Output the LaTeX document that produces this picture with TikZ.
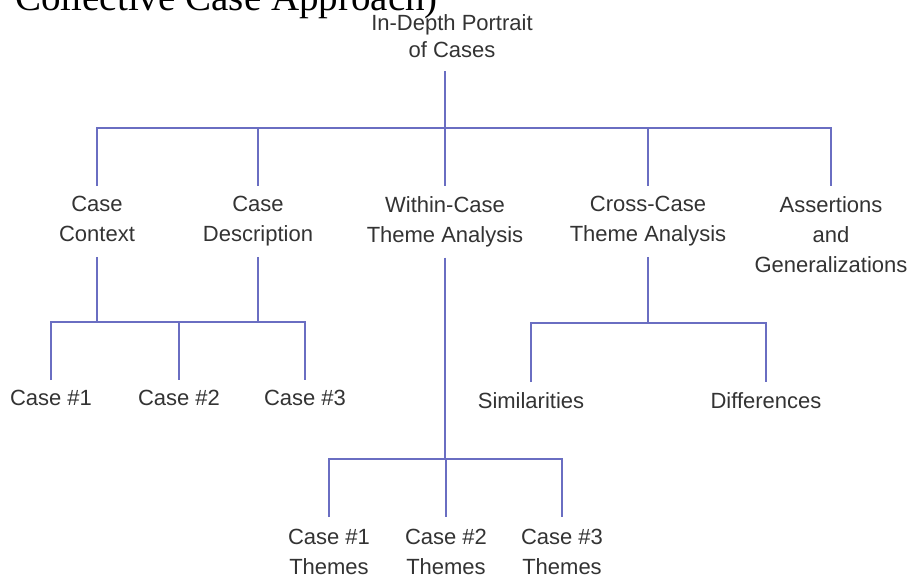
\documentclass[tikz,border=0pt]{standalone}
\usepackage{fontspec}
\setmainfont{Liberation Sans}
\newfontfamily\titlefont{Liberation Serif}
\usetikzlibrary{calc}
\definecolor{linkblue}{HTML}{6A6EC2}
\definecolor{labelgray}{HTML}{333333}
\newcommand{\lowph}{\vphantom{p}}
\begin{document}
\begin{tikzpicture}[x=1pt,y=-1pt,
  link/.style={draw=linkblue,line width=2.6pt,line join=miter},
  lbl/.style={align=center,inner sep=0pt,outer xsep=0pt,outer ysep=10.5pt,
    text=labelgray,font=\fontsize{22}{30}\selectfont},
  upper/.style={lbl,anchor=north},
  leaf/.style={lbl,anchor=north},
  themeleaf/.style={lbl,anchor=north,outer ysep=12pt}]
\useasboundingbox (0,0) rectangle (914,579);

% heading line, partly above the page edge
\node[anchor=base east,inner sep=0pt,font=\titlefont\fontsize{39}{42}\selectfont]
  (title) at (438,10) {Collective Case Approach)};

% root
\node[lbl,anchor=south,outer ysep=9pt,font=\fontsize{22}{27}\selectfont]
  (root) at (452,71) {In-Depth Portrait\\of Cases\lowph};

% second level
\node[upper] (ctx)    at (97,186)  {Case\\Context\lowph};
\node[upper] (desc)   at (258,186) {Case\\Description\lowph};
\node[upper] (within) at (445,186) {Within-Case\\Theme Analysis\lowph};
\node[upper] (cross)  at (648,186) {Cross-Case\\Theme Analysis\lowph};
\node[upper] (assert) at (831,186) {Assertions\\and\\Generalizations};

% third level
\node[leaf] (c1) at (51,380)  {Case \#1};
\node[leaf] (c2) at (179,380) {Case \#2};
\node[leaf] (c3) at (305,380) {Case \#3};
\node[leaf] (sim)  at (531,382) {Similarities};
\node[leaf] (diff) at (766,382) {Differences};
\node[themeleaf] (t1) at (329,517) {Case \#1\\Themes};
\node[themeleaf] (t2) at (446,517) {Case \#2\\Themes};
\node[themeleaf] (t3) at (562,517) {Case \#3\\Themes};

% junction points of the buses
\coordinate (j0) at (445,128);
\coordinate (j1) at (179,322);
\coordinate (j2) at (445,459);
\coordinate (j3) at (648,323);

% root bus
\draw[link] (root.south -| j0) -- (j0);
\draw[link] (ctx.north) -- (ctx.north |- j0) -- (assert.north |- j0) -- (assert.north);
\draw[link] (desc.north |- j0) -- (desc.north);
\draw[link] (within.north |- j0) -- (within.north);
\draw[link] (cross.north |- j0) -- (cross.north);

% case bus
\draw[link] (ctx.south) -- (ctx.south |- j1);
\draw[link] (desc.south) -- (desc.south |- j1);
\draw[link] (c1.north) -- (c1.north |- j1) -- (c3.north |- j1) -- (c3.north);
\draw[link] (c2.north |- j1) -- (c2.north);

% within-case bus
\draw[link] (within.south) -- (within.south |- j2);
\draw[link] (t1.north) -- (t1.north |- j2) -- (t3.north |- j2) -- (t3.north);
\draw[link] (t2.north |- j2) -- (t2.north);

% cross-case bus
\draw[link] (cross.south) -- (cross.south |- j3);
\draw[link] (sim.north) -- (sim.north |- j3) -- (diff.north |- j3) -- (diff.north);
\end{tikzpicture}
\end{document}
